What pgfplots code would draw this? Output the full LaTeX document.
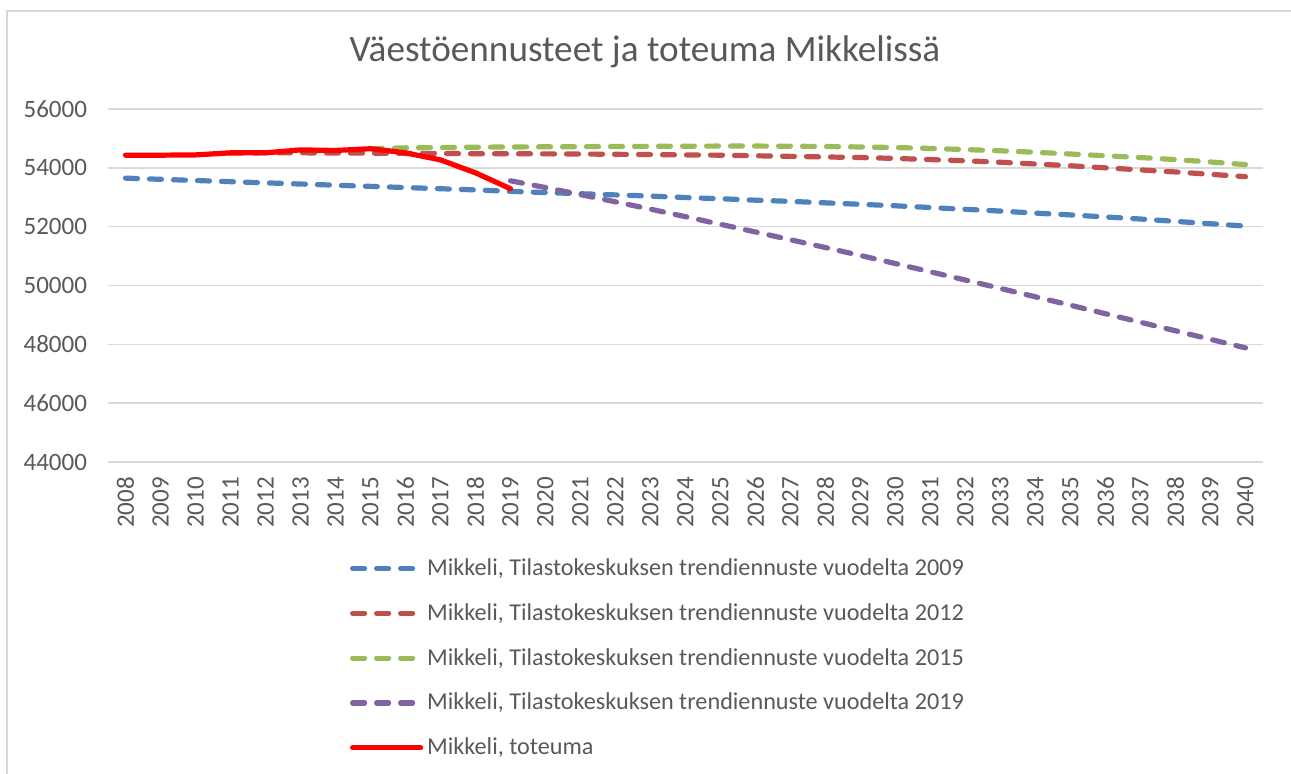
\documentclass[border=0pt]{standalone}
\usepackage{fontspec}
\setmainfont{Carlito}
\usepackage{pgfplots}
\pgfplotsset{compat=1.18}
\definecolor{gridgray}{HTML}{D9D9D9}
\definecolor{textgray}{HTML}{595959}
\definecolor{sblue}{HTML}{4F81BD}
\definecolor{sred}{HTML}{C0504D}
\definecolor{sgreen}{HTML}{9BBB59}
\definecolor{spurple}{HTML}{8064A2}
\definecolor{sreal}{HTML}{FF0000}
\begin{document}
\begin{tikzpicture}[x=1pt,y=1pt]
\useasboundingbox (-54,231) rectangle (591.5,-155.5);
\draw[gridgray, line width=1pt] (-50.5,-160) -- (-50.5,225.5) -- (600,225.5);
\node[text=textgray, font=\fontsize{18.6}{22}\selectfont] at (268.5,205) {Väestöennusteet ja toteuma Mikkelissä};
\begin{axis}[
  at={(0,0)}, anchor=south west,
  scale only axis, width=577.5pt, height=176.5pt,
  xmin=2007.5, xmax=2040.5, ymin=44000, ymax=56000,
  xtick={2008,...,2040}, ytick={44000,46000,...,56000},
  scaled y ticks=false,
  /pgf/number format/assume math mode=true,
  /pgf/number format/set thousands separator={},
  ymajorgrids, grid style={gridgray, line width=0.75pt},
  axis line style={draw=none}, major tick length=0pt,
  tick label style={text=textgray, font=\fontsize{12.5}{14}\selectfont},
  xticklabel style={rotate=90, anchor=east},
  xticklabel shift=4pt,
  yticklabel style={xshift=-7pt},
  every axis plot/.append style={line width=2.6pt, line cap=round, line join=round},
  legend cell align=left,
  legend style={draw=none, fill=none, at={(0.2040,-0.25)}, anchor=north west,
    font=\fontsize{12.1}{14}\selectfont, text=textgray, row sep=8.5pt,
    /tikz/every even column/.append style={column sep=0pt}},
  legend image code/.code={\draw[#1] (1pt,0pt) -- (35pt,0pt);},
]
\addplot[sblue, dash pattern=on 6pt off 6pt] coordinates {
(2008,53650) (2009,53610) (2010,53570) (2011,53530) (2012,53490) (2013,53450) (2014,53410) (2015,53370) (2016,53330) (2017,53290) (2018,53250) (2019,53200) (2020,53160) (2021,53120) (2022,53080) (2023,53040) (2024,52990) (2025,52950) (2026,52900) (2027,52860) (2028,52810) (2029,52760) (2030,52710) (2031,52650) (2032,52590) (2033,52530) (2034,52460) (2035,52400) (2036,52330) (2037,52260) (2038,52180) (2039,52100) (2040,52020)};
\addlegendentry{Mikkeli, Tilastokeskuksen trendiennuste vuodelta 2009}
\addplot[sred, dash pattern=on 6pt off 6pt] coordinates {
(2011,54500) (2012,54510) (2013,54510) (2014,54500) (2015,54500) (2016,54490) (2017,54490) (2018,54480) (2019,54480) (2020,54475) (2021,54470) (2022,54460) (2023,54450) (2024,54440) (2025,54430) (2026,54410) (2027,54390) (2028,54370) (2029,54350) (2030,54320) (2031,54280) (2032,54240) (2033,54190) (2034,54130) (2035,54070) (2036,54000) (2037,53930) (2038,53860) (2039,53780) (2040,53700)};
\addlegendentry{Mikkeli, Tilastokeskuksen trendiennuste vuodelta 2012}
\addplot[sgreen, dash pattern=on 6pt off 6pt] coordinates {
(2015,54650) (2016,54680) (2017,54690) (2018,54700) (2019,54710) (2020,54715) (2021,54720) (2022,54725) (2023,54730) (2024,54735) (2025,54740) (2026,54740) (2027,54735) (2028,54725) (2029,54710) (2030,54690) (2031,54660) (2032,54620) (2033,54580) (2034,54530) (2035,54470) (2036,54410) (2037,54350) (2038,54280) (2039,54200) (2040,54110)};
\addlegendentry{Mikkeli, Tilastokeskuksen trendiennuste vuodelta 2015}
\addplot[spurple, dash pattern=on 6pt off 6pt] coordinates {
(2019,53560) (2020,53330) (2021,53090) (2022,52845) (2023,52595) (2024,52340) (2025,52080) (2026,51820) (2027,51555) (2028,51290) (2029,51020) (2030,50745) (2031,50465) (2032,50185) (2033,49900) (2034,49615) (2035,49330) (2036,49040) (2037,48750) (2038,48460) (2039,48170) (2040,47880)};
\addlegendentry{Mikkeli, Tilastokeskuksen trendiennuste vuodelta 2019}
\addplot[sreal] coordinates {
(2008,54430) (2009,54430) (2010,54440) (2011,54510) (2012,54510) (2013,54610) (2014,54590) (2015,54650) (2016,54510) (2017,54270) (2018,53830) (2019,53290)};
\addlegendentry{Mikkeli, toteuma}
\end{axis}
\end{tikzpicture}
\end{document}
